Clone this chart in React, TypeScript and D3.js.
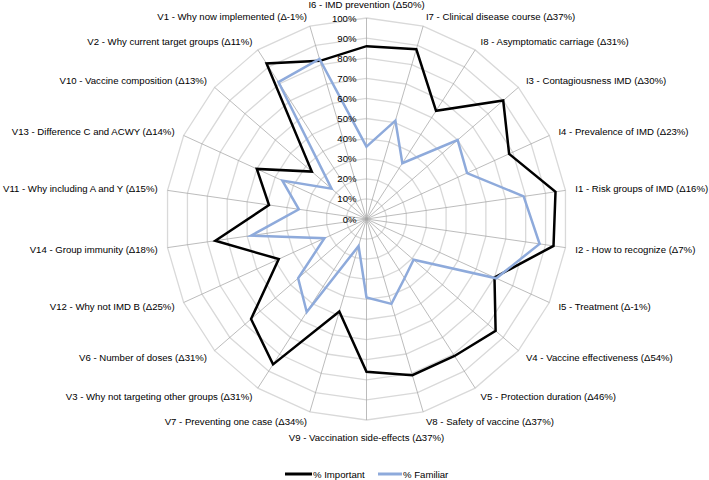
import React from 'react';
import * as d3 from 'd3';

const axes = [
  'I6 - IMD prevention (Δ50%)',
  'I7 - Clinical disease course (Δ37%)',
  'I8 - Asymptomatic carriage (Δ31%)',
  'I3 - Contagiousness IMD (Δ30%)',
  'I4 - Prevalence of IMD (Δ23%)',
  'I1 - Risk groups of IMD (Δ16%)',
  'I2 - How to recognize (Δ7%)',
  'I5 - Treatment (Δ-1%)',
  'V4 - Vaccine effectiveness (Δ54%)',
  'V5 - Protection duration (Δ46%)',
  'V8 - Safety of vaccine (Δ37%)',
  'V9 - Vaccination side-effects (Δ37%)',
  'V7 - Preventing one case (Δ34%)',
  'V3 - Why not targeting other groups (Δ31%)',
  'V6 - Number of doses (Δ31%)',
  'V12 - Why not IMD B (Δ25%)',
  'V14 - Group immunity (Δ18%)',
  'V11 - Why including A and Y (Δ15%)',
  'V13 - Difference C and ACWY (Δ14%)',
  'V10 - Vaccine composition (Δ13%)',
  'V2 - Why current target groups (Δ11%)',
  'V1 - Why now implemented (Δ-1%)',
];

const important = [86, 88, 64, 90, 78, 95, 94, 70, 85, 81, 81, 76, 48, 86, 76, 48, 76, 49, 60, 36, 92, 82];
const familiar = [36, 51, 33, 60, 55, 79, 87, 71, 31, 35, 44, 39, 14, 55, 45, 23, 58, 34, 46, 23, 81, 83];

const tickValues = [0, 10, 20, 30, 40, 50, 60, 70, 80, 90, 100];
const seriesNames = ['% Important', '% Familiar'];
const seriesColors = ['#000000', '#8eaadb'];

const W = 709;
const H = 480;
const cx = 366.5;
const cy = 219;
const R = 201;
const FS = 9.6;
const FONT = "'Liberation Sans', Arial, sans-serif";

export default function App() {
  const n = axes.length;
  const r = d3.scaleLinear().domain([0, 100]).range([0, R]);
  const ang = d3.scaleLinear().domain([0, n]).range([0, 2 * Math.PI]);
  const line = d3
    .lineRadial<number>()
    .angle((_d, i) => ang(i))
    .radius((d) => r(d))
    .curve(d3.curveLinearClosed);

  const pt = (i: number, rad: number) => {
    const a = ang(i);
    return [rad * Math.sin(a), -rad * Math.cos(a)];
  };

  const rings = tickValues.filter((t) => t > 0).map((t) => {
    const pts = d3.range(n).map((i) => pt(i, r(t)).join(','));
    return <polygon key={t} points={pts.join(' ')} fill="none" stroke="#d9d9d9" strokeWidth={1.3} />;
  });

  const spokes = d3.range(n).map((i) => {
    const [x, y] = pt(i, R);
    return <line key={i} x1={0} y1={0} x2={x} y2={y} stroke="#a6a6a6" strokeWidth={0.75} />;
  });

  const labels = axes.map((lab, i) => {
    const a = ang(i);
    const s = Math.sin(a);
    const c = Math.cos(a);
    let anchor: 'start' | 'end' | 'middle' = 'middle';
    let d = 10;
    if (s > 0.01) anchor = 'start';
    else if (s < -0.01) anchor = 'end';
    else d = c > 0 ? 14 : 17;
    const x = (R + d) * s;
    const y = -(R + d) * c;
    return (
      <text key={lab} x={x} y={y} textAnchor={anchor} dominantBaseline="central" fontSize={FS} fill="#000">
        {lab}
      </text>
    );
  });

  const tickLabels = tickValues.map((t) => (
    <text key={t} x={-10} y={-r(t)} textAnchor="end" dominantBaseline="central" fontSize={FS} fill="#000">
      {t}%
    </text>
  ));

  const series = [important, familiar];

  const legendY = 474;
  const legendItems = [
    { x1: 285, x2: 312 },
    { x1: 378, x2: 402 },
  ];

  return (
    <svg
      width={W}
      height={H}
      style={{ position: 'absolute', left: 0, top: 0, background: '#fff' }}
      fontFamily={FONT}
    >
      <rect x={0} y={0} width={W} height={H} fill="#fff" />
      <g transform={`translate(${cx},${cy})`}>
        {rings}
        {spokes}
        {series.map((vals, k) => (
          <path
            key={k}
            d={line(vals) || ''}
            fill="none"
            stroke={seriesColors[k]}
            strokeWidth={2.5}
            strokeLinejoin="miter"
          />
        ))}
        {tickLabels}
        {labels}
      </g>
      {legendItems.map((it, k) => (
        <g key={k}>
          <line x1={it.x1} x2={it.x2} y1={legendY} y2={legendY} stroke={seriesColors[k]} strokeWidth={3} />
          <text x={it.x2 + 1} y={legendY} dominantBaseline="central" fontSize={FS} fill="#000">
            {seriesNames[k]}
          </text>
        </g>
      ))}
    </svg>
  );
}
